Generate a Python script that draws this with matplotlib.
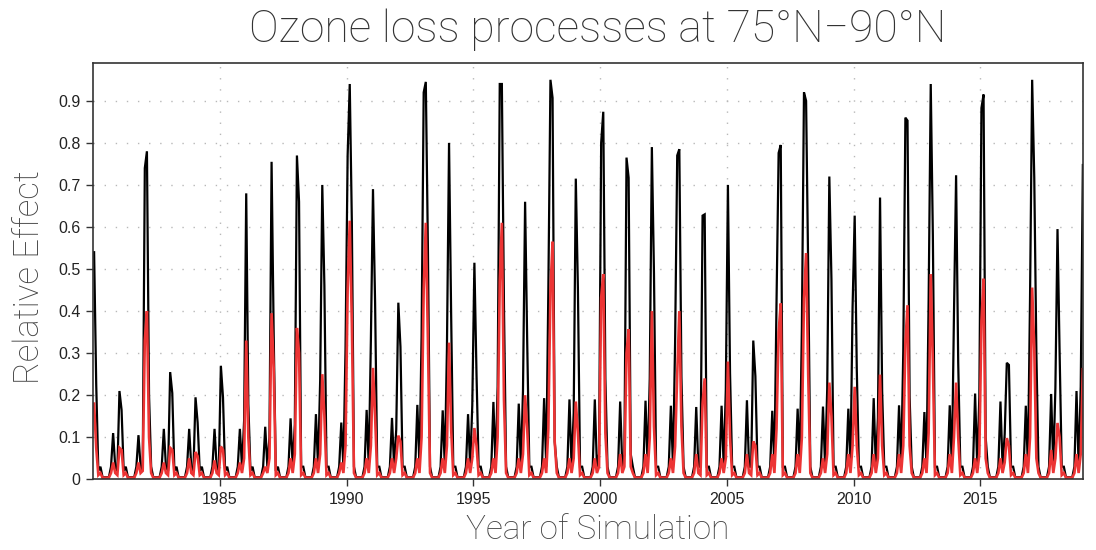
import matplotlib
matplotlib.use("Agg")
import matplotlib.pyplot as plt
import numpy as np

# monthly relative effect
# winter months per year: Dec of the previous year, Jan, Feb, Mar
years = list(range(1980, 2020))

black_dec = [0.0, 0.02, 0.02, 0.02, 0.02, 0.02, 0.14, 0.10, 0.13, 0.235,
             0.31, 0.33, 0.118, 0.34, 0.31, 0.176, 0.22, 0.21, 0.45, 0.158,
             0.06, 0.06, 0.24, 0.326, 0.03, 0.213, 0.03, 0.42, 0.358, 0.215,
             0.408, 0.146, 0.304, 0.424, 0.395, 0.196, 0.107, 0.432, 0.217, 0.22]
black_jan = [0.54, 0.21, 0.74, 0.255, 0.195, 0.27, 0.68, 0.755, 0.77, 0.70,
             0.77, 0.69, 0.42, 0.92, 0.80, 0.515, 0.94, 0.66, 0.95, 0.715,
             0.80, 0.765, 0.79, 0.77, 0.627, 0.70, 0.33, 0.776, 0.92, 0.72,
             0.627, 0.67, 0.86, 0.94, 0.723, 0.883, 0.277, 0.95, 0.595, 0.75]
black_feb = [0.225, 0.165, 0.78, 0.205, 0.135, 0.195, 0.18, 0.345, 0.66, 0.46,
             0.94, 0.42, 0.315, 0.945, 0.39, 0.25, 0.94, 0.325, 0.907, 0.452,
             0.874, 0.717, 0.49, 0.785, 0.63, 0.253, 0.245, 0.795, 0.90, 0.476,
             0.26, 0.21, 0.853, 0.58, 0.278, 0.915, 0.272, 0.717, 0.30, 0.52]
black_mar = [0.02, 0.02, 0.20, 0.02, 0.02, 0.02, 0.02, 0.02, 0.03, 0.03,
             0.61, 0.03, 0.03, 0.55, 0.03, 0.03, 0.41, 0.03, 0.09, 0.03,
             0.24, 0.06, 0.03, 0.243, 0.03, 0.03, 0.03, 0.03, 0.498, 0.03,
             0.03, 0.03, 0.196, 0.03, 0.03, 0.10, 0.03, 0.30, 0.03, 0.03]
black_oct = [0.11, 0.105, 0.12, 0.12, 0.12, 0.12, 0.125, 0.145, 0.155, 0.135,
             0.165, 0.146, 0.177, 0.164, 0.155, 0.184, 0.18, 0.193, 0.19, 0.19,
             0.185, 0.187, 0.175, 0.172, 0.175, 0.188, 0.163, 0.168, 0.173, 0.168,
             0.193, 0.176, 0.16, 0.176, 0.204, 0.185, 0.175, 0.203, 0.21, 0.0]

red_dec = [0.0, 0.01, 0.02, 0.01, 0.01, 0.01, 0.05, 0.05, 0.06, 0.06,
           0.08, 0.08, 0.05, 0.10, 0.08, 0.05, 0.10, 0.06, 0.12, 0.05,
           0.03, 0.03, 0.10, 0.078, 0.01, 0.05, 0.01, 0.12, 0.10, 0.06,
           0.08, 0.05, 0.08, 0.11, 0.10, 0.06, 0.04, 0.10, 0.05, 0.06]
red_jan = [0.18, 0.075, 0.33, 0.075, 0.065, 0.078, 0.33, 0.395, 0.36, 0.25,
           0.45, 0.265, 0.104, 0.45, 0.325, 0.122, 0.47, 0.20, 0.45, 0.185,
           0.432, 0.30, 0.40, 0.25, 0.18, 0.28, 0.09, 0.35, 0.43, 0.23,
           0.22, 0.249, 0.325, 0.488, 0.23, 0.376, 0.098, 0.456, 0.134, 0.265]
red_feb = [0.075, 0.07, 0.40, 0.07, 0.055, 0.07, 0.10, 0.265, 0.30, 0.15,
           0.615, 0.15, 0.09, 0.61, 0.12, 0.08, 0.61, 0.12, 0.565, 0.11,
           0.488, 0.357, 0.126, 0.40, 0.24, 0.10, 0.08, 0.418, 0.538, 0.15,
           0.08, 0.08, 0.414, 0.28, 0.10, 0.477, 0.08, 0.31, 0.10, 0.19]
red_mar = [0.01, 0.01, 0.10, 0.01, 0.01, 0.01, 0.01, 0.01, 0.01, 0.01,
           0.37, 0.01, 0.01, 0.33, 0.01, 0.01, 0.19, 0.01, 0.09, 0.01,
           0.11, 0.03, 0.01, 0.126, 0.01, 0.01, 0.01, 0.01, 0.25, 0.01,
           0.01, 0.01, 0.08, 0.01, 0.01, 0.05, 0.01, 0.05, 0.01, 0.01]
red_oct = [0.04, 0.04, 0.04, 0.05, 0.045, 0.04, 0.03, 0.05, 0.05, 0.04,
           0.05, 0.05, 0.05, 0.05, 0.05, 0.05, 0.05, 0.05, 0.05, 0.05,
           0.06, 0.06, 0.05, 0.06, 0.05, 0.06, 0.06, 0.06, 0.05, 0.06,
           0.06, 0.06, 0.05, 0.06, 0.05, 0.05, 0.06, 0.07, 0.06, 0.0]

# small background levels seen between the peaks
black_base, black_shoulder = 0.005, 0.03
red_base, red_shoulder = 0.004, 0.015


def monthly(dec, jan, feb, mar, octo, base, shoulder):
    vals = []
    for i, y in enumerate(years):
        m = [base] * 12
        m[0], m[1], m[2] = jan[i], feb[i], mar[i]
        m[3] = shoulder
        m[8] = shoulder
        m[9] = octo[i]
        m[10] = shoulder
        if i + 1 < len(years):
            m[11] = dec[i + 1]
        vals.extend(m)
    return np.array(vals)


t = np.array([y + (k + 0.5) / 12 for y in years for k in range(12)])
black = monthly(black_dec, black_jan, black_feb, black_mar, black_oct,
                black_base, black_shoulder)
red = monthly(red_dec, red_jan, red_feb, red_mar, red_oct,
              red_base, red_shoulder)
keep = t < 2019.2
t, black, red = t[keep], black[keep], red[keep]

fig = plt.figure(figsize=(10.96, 5.5), dpi=100)
ax = fig.add_axes([0.0849, 0.1285, 0.9033, 0.757])

ax.plot(t, black, color="black", lw=1.6, solid_joinstyle="miter")
ax.plot(t, red, color="#ec3434", lw=1.9, solid_joinstyle="miter")

ax.set_xlim(1980, 2019.05)
ax.set_ylim(0, 0.99)
ax.set_yticks(np.arange(0, 1.0, 0.1))
ax.set_yticklabels(["0"] + ["%.1f" % v for v in np.arange(0.1, 1.0, 0.1)])
ax.set_xticks(range(1985, 2019, 5))

for lab in ax.get_xticklabels() + ax.get_yticklabels():
    lab.set_family(["Liberation Sans", "DejaVu Sans"])
    lab.set_fontsize(11.5)
    lab.set_color("#222222")

ax.tick_params(direction="out", length=5, width=1, color="#333333", pad=4)
ax.grid(True, color="#b8b8b8", linestyle=(0, (1, 7)), lw=1)
for s in ax.spines.values():
    s.set_linewidth(1.2)
    s.set_color("#333333")

fig.text(0.545, 0.946, "Ozone loss processes at 75°N\u221290°N", ha="center",
         va="center", fontsize=32, family="Roboto", weight="light",
         color="#333333")
fig.text(0.545, 0.036, "Year of Simulation", ha="center", va="center",
         fontsize=24, family="Roboto", weight="light", color="#444444")
fig.text(0.027, 0.497, "Relative Effect", ha="center", va="center",
         rotation=90, fontsize=25, family="Roboto", weight="light",
         color="#444444")

fig.savefig("out.png", dpi=100)
